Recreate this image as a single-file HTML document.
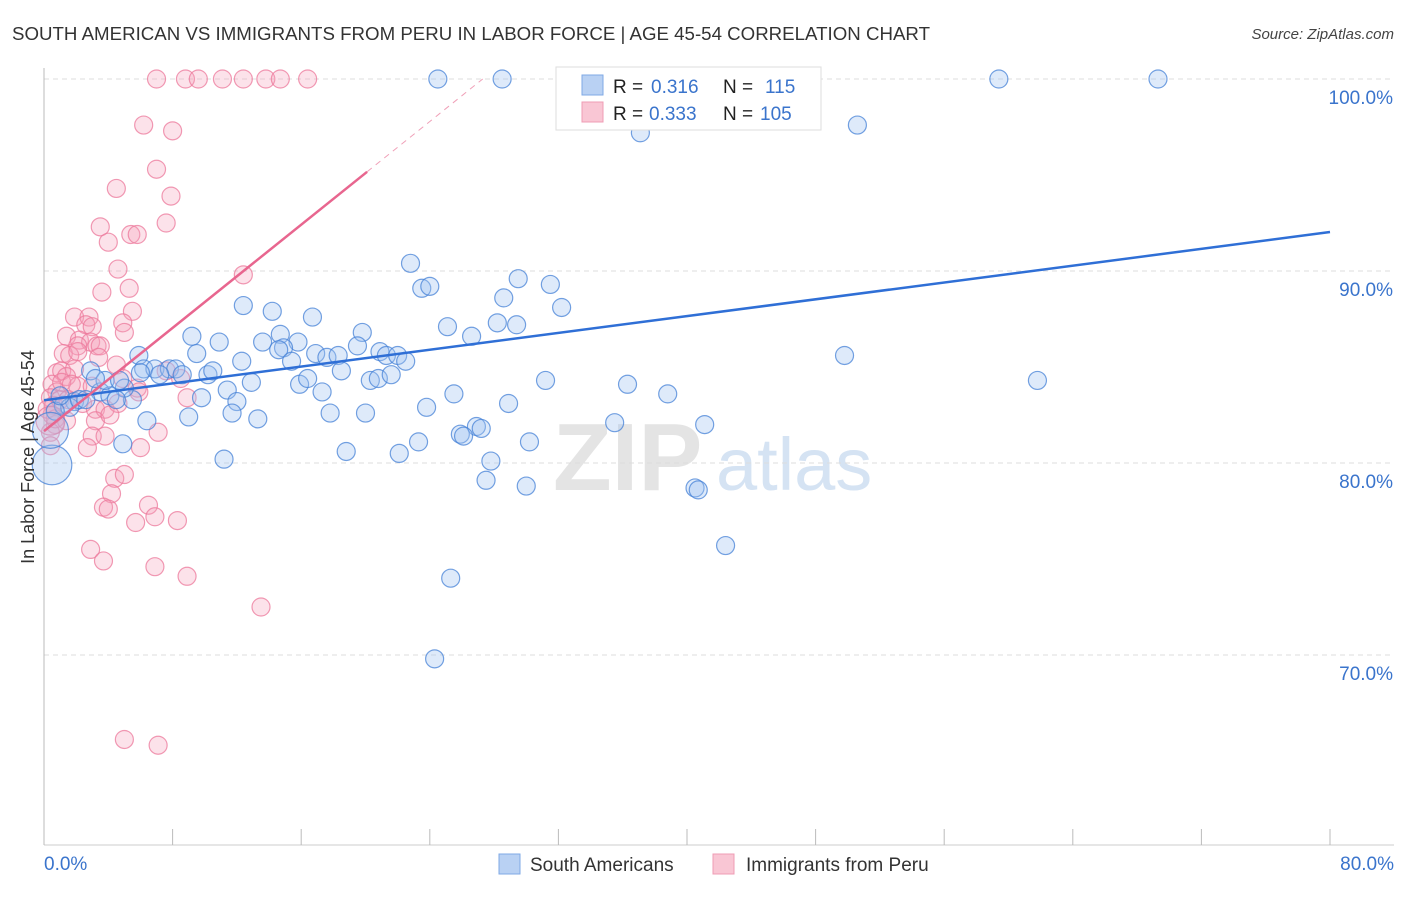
<!DOCTYPE html>
<html><head><meta charset="utf-8"><style>
body{margin:0;background:#fff;font-family:"Liberation Sans",sans-serif;}
svg text{font-family:"Liberation Sans",sans-serif;}
</style></head><body>
<svg id="chart" width="1406" height="892" viewBox="0 0 1406 892" xmlns="http://www.w3.org/2000/svg">
<text x="12" y="40" font-size="18" fill="#333" textLength="918" lengthAdjust="spacingAndGlyphs">SOUTH AMERICAN VS IMMIGRANTS FROM PERU IN LABOR FORCE | AGE 45-54 CORRELATION CHART</text>
<text x="1394" y="39" font-size="15" fill="#444" text-anchor="end" font-style="italic">Source: ZipAtlas.com</text>
<text x="553" y="490" font-size="96" fill="#e4e4e4" font-family="Liberation Serif" font-weight="bold">ZIP</text>
<text x="716" y="490" font-size="74" fill="#d5e3f3">atlas</text>
<g id="grid"></g>
<g id="axes"></g>
<g id="marks"></g>
<text transform="translate(34,457) rotate(-90)" font-size="18" fill="#333" text-anchor="middle">In Labor Force | Age 45-54</text>
<g>
<rect x="556" y="67" width="265" height="63" fill="#fff" stroke="#ddd"/>
<rect x="582" y="75" width="21" height="20" fill="#b9d1f3" stroke="#7fa9e6"/>
<rect x="582" y="102" width="21" height="20" fill="#f9c6d4" stroke="#ef9cb4"/>
<text x="613" y="93" font-size="19" fill="#222">R = </text><text x="651" y="93" font-size="19" fill="#3a74cc">0.316</text>
<text x="723" y="93" font-size="19" fill="#222">N = </text><text x="765" y="93" font-size="19" fill="#3a74cc">115</text>
<text x="613" y="120" font-size="19" fill="#222">R = </text><text x="649" y="120" font-size="19" fill="#3a74cc">0.333</text>
<text x="723" y="120" font-size="19" fill="#222">N = </text><text x="760" y="120" font-size="19" fill="#3a74cc">105</text>
</g>
<g>
<rect x="499" y="854" width="21" height="20" fill="#b9d1f3" stroke="#7fa9e6"/>
<text x="530" y="871" font-size="19" fill="#333">South Americans</text>
<rect x="713" y="854" width="21" height="20" fill="#f9c6d4" stroke="#ef9cb4"/>
<text x="746" y="871" font-size="19" fill="#333">Immigrants from Peru</text>
</g>
</svg>
<script>
const blueX=[24.5,28.5,32.7,59.4,69.3,50.6,37.1,22.8,29.5,31.5,23.5,24.0,28.6,12.4,14.2,32.2,16.7,25.1,28.2,29.4,26.6,19.8,9.2,14.7,10.9,13.6,15.8,14.9,14.6,19.5,5.9,9.5,12.3,15.4,16.9,17.6,18.3,20.9,21.3,22.0,22.5,49.8,6.2,6.9,7.8,8.2,8.6,10.2,10.5,18.5,20.3,20.8,21.6,31.2,36.3,61.8,38.8,12.9,11.4,15.9,16.4,17.3,25.5,9.8,12.0,5.5,5.0,28.9,9.0,11.7,13.3,17.8,20.0,23.8,6.4,35.5,41.1,26.9,27.2,25.9,26.1,23.3,30.2,4.9,22.1,18.8,11.2,27.8,27.5,30.0,40.5,40.7,42.4,25.3,24.3,2.9,3.5,4.1,4.5,1.9,1.2,1.6,2.2,0.7,2.6,3.8,3.2,1.0,6.0,7.2,4.7,0.5,0.4];
const blueY=[100,100,100,100,100,97.6,97.2,90.4,89.6,89.3,89.1,89.2,88.6,88.2,87.9,88.1,87.6,87.1,87.3,87.2,86.6,86.8,86.6,86.7,86.3,86.3,86.3,86.0,85.9,86.1,85.6,85.7,85.3,85.3,85.7,85.5,85.6,85.8,85.6,85.6,85.3,85.6,84.9,84.9,84.9,84.9,84.6,84.6,84.8,84.8,84.3,84.4,84.6,84.3,84.1,84.3,83.6,84.2,83.8,84.1,84.4,83.7,83.6,83.4,83.2,83.3,83.9,83.1,82.4,82.6,82.3,82.6,82.6,82.9,82.2,82.1,82.0,81.9,81.8,81.5,81.4,81.1,81.1,81.0,80.5,80.6,80.2,80.1,79.1,78.8,78.7,78.6,75.7,74.0,69.8,84.8,83.7,83.5,83.3,83.2,83.0,82.9,83.3,82.7,83.3,84.3,84.4,83.5,84.7,84.6,84.3,79.9,81.7];
const blueSize=new Array(blueX.length).fill(1);blueSize[blueX.length-2]=2.2;blueSize[blueX.length-1]=2;
const pinkX=[7.0,8.8,9.6,11.1,12.4,13.8,14.7,16.4,6.2,8.0,7.0,4.5,7.9,7.6,3.5,5.4,5.8,4.0,4.6,12.4,3.6,5.3,5.5,1.9,2.8,2.6,3.0,4.9,5.0,1.4,2.2,2.9,3.3,2.1,3.5,1.2,1.6,2.1,3.4,4.5,0.8,1.1,1.9,1.4,0.5,0.8,2.1,3.0,4.9,5.8,7.6,8.5,0.4,0.6,1.0,1.5,2.4,3.2,3.8,4.6,5.9,8.9,0.5,0.7,3.2,3.0,3.8,7.1,2.7,6.0,0.4,0.4,4.4,4.2,5.0,3.7,4.0,6.5,6.9,5.7,8.3,2.9,3.7,6.9,8.9,13.5,5.0,7.1,1.1,1.7,0.2,0.7,1.4,4.1,0.4];
const pinkY=[100,100,100,100,100,100,100,100,97.6,97.3,95.3,94.3,93.9,92.5,92.3,91.9,91.9,91.5,90.1,89.8,88.9,89.1,87.9,87.6,87.6,87.2,87.1,87.3,86.8,86.6,86.4,86.3,86.1,86.1,86.1,85.7,85.6,85.8,85.5,85.1,84.7,84.8,84.9,84.5,84.1,83.7,84.0,84.0,84.4,83.9,84.8,84.4,83.4,83.0,83.3,83.3,83.1,82.8,82.8,83.1,83.7,83.4,82.5,82.0,82.2,81.4,81.4,81.6,80.8,80.8,81.6,80.9,79.2,78.4,79.4,77.7,77.6,77.8,77.2,76.9,77.0,75.5,74.9,74.6,74.1,72.5,65.6,65.3,84.2,84.1,82.8,82.3,82.2,82.5,82.2];
const pinkSize=new Array(pinkX.length).fill(1);pinkSize[pinkX.length-1]=1.6;
const yTicks=[100,90,80,70];
const yTickLabels=["100.0%","90.0%","80.0%","70.0%"];
const xTickCount=10;
const blueTrend=[83.27,92.03];
const pinkTrend=[81.66,0.672];
const NS="http://www.w3.org/2000/svg";
const X0=44,X1=1330,Y100=79,PXPER=19.2;
function sx(v){return X0+(v/80)*(X1-X0);}
function sy(v){return Y100+(100-v)*PXPER;}
function mk(t,a,p){const e=document.createElementNS(NS,t);for(const k in a)e.setAttribute(k,a[k]);p.appendChild(e);return e;}
const grid=document.getElementById('grid'),axes=document.getElementById('axes'),marks=document.getElementById('marks');
yTicks.forEach((v,i)=>{
 const l=mk('line',{x1:X0,x2:1394,y1:sy(v),y2:sy(v),stroke:'#ddd','stroke-dasharray':'5,4'},grid);
 
 
 const t=mk('text',{x:1393,y:sy(v)+25,'font-size':19,fill:'#3a74cc','text-anchor':'end'},axes);t.textContent=yTickLabels[i];
 
 
});
const ax=mk('line',{x1:X0,x2:X0,y1:68,y2:845,stroke:'#bbb'},axes);


const bx=mk('line',{x1:X0,x2:1394,y1:845,y2:845,stroke:'#ccc'},axes);


for(let i=0;i<=xTickCount;i++){
 const x=sx(i*8);const t=mk('line',{x1:x,x2:x,y1:829,y2:845,stroke:'#bbb'},axes);
 
 
}
const xl=mk('text',{x:44,y:870,'font-size':19,fill:'#3a74cc'},axes);xl.textContent='0.0%';


const xr=mk('text',{x:1394,y:870,'font-size':19,fill:'#3a74cc','text-anchor':'end'},axes);xr.textContent='80.0%';


function dots(xs,ys,sz,fill,stroke,name){
 xs.forEach((x,i)=>{const c=mk('circle',{cx:sx(x),cy:sy(ys[i]),r:9*sz[i],fill:fill,stroke:stroke,'stroke-width':1.2},marks);
 
 });
}
dots(pinkX,pinkY,pinkSize,'rgba(245,160,185,0.3)','rgba(236,120,155,0.75)','peru-point');
dots(blueX,blueY,blueSize,'rgba(160,195,240,0.35)','rgba(70,130,215,0.75)','south-american-point');
const bl=mk('line',{x1:sx(0),y1:sy(blueTrend[0]),x2:sx(80),y2:sy(blueTrend[1]),stroke:'#2f6fd6','stroke-width':2.5},marks);


const pxEnd=20.1,pxMax=(100-pinkTrend[0])/pinkTrend[1];
const pl=mk('line',{x1:sx(0),y1:sy(pinkTrend[0]),x2:sx(pxEnd),y2:sy(pinkTrend[0]+pinkTrend[1]*pxEnd),stroke:'#e8668f','stroke-width':2.5},marks);


const pd=mk('line',{x1:sx(pxEnd),y1:sy(pinkTrend[0]+pinkTrend[1]*pxEnd),x2:sx(pxMax),y2:sy(100),stroke:'#f0a0b8','stroke-width':1,'stroke-dasharray':'6,5'},marks);


</script>
</body></html>
